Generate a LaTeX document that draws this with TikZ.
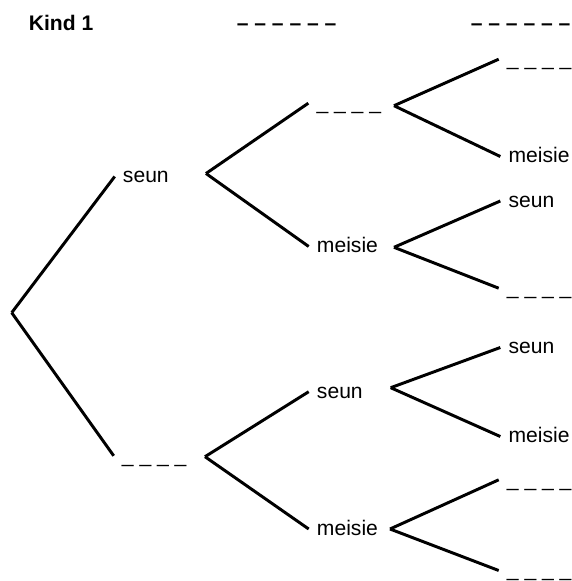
\documentclass[tikz,border=0pt]{standalone}
\usepackage{fontspec}
\setmainfont{Liberation Sans}
\tikzset{
  lbl/.style={anchor=west, inner xsep=0.2cm, inner ysep=0pt, text height=9pt, text depth=0pt, font=\fontsize{15}{18}\selectfont},
  head/.style={anchor=base west, inner sep=0pt, font=\fontsize{15}{18}\selectfont\bfseries},
  branch/.style={line width=2.1pt}
}
\newcommand{\blank}{\_ \_ \_ \_}
\begin{document}
\begin{tikzpicture}[x=0.025cm, y=-0.025cm]
  \useasboundingbox (0,0) rectangle (572,581);
  % headings
  \node[head] (kind) at (28.6,30) {Kind 1};
  \node[head] (h1) at (236.5,30) {– – – – – –};
  \node[head] (h2) at (470.5,30) {– – – – – –};

  % first child
  \coordinate (r) at (11.7,312.7);
  \node[lbl] (a) at (114.7,176.5) {seun};
  \node[lbl] (b) at (113.7,455.8) {\blank};
  \coordinate (av) at (206,173.5);
  \coordinate (bv) at (205,456.7);

  % second child
  \node[lbl] (aa) at (308.3,103.2) {\blank};
  \node[lbl] (ab) at (308.7,246.5) {meisie};
  \node[lbl] (ba) at (308.7,391.7) {seun};
  \node[lbl] (bb) at (308.7,529) {meisie};
  \coordinate (aav) at (394,105.7);
  \coordinate (abv) at (394,247.3);
  \coordinate (bav) at (390.7,387.7);
  \coordinate (bbv) at (390,529);

  % third child
  \node[lbl] (aaa) at (498.7,59.2) {\blank};
  \node[lbl] (aab) at (500.3,156.5) {meisie};
  \node[lbl] (aba) at (500.3,201) {seun};
  \node[lbl] (abb) at (498.7,288.2) {\blank};
  \node[lbl] (baa) at (500.3,347.5) {seun};
  \node[lbl] (bab) at (500.3,436.5) {meisie};
  \node[lbl] (bba) at (498.7,479.8) {\blank};
  \node[lbl] (bbb) at (498.7,570.5) {\blank};

  \foreach \source/\dest in {
    r/a, r/b,
    av/aa, av/ab, bv/ba, bv/bb,
    aav/aaa, aav/aab, abv/aba, abv/abb,
    bav/baa, bav/bab, bbv/bba, bbv/bbb}
    \draw[branch] (\source) -- (\dest.west);
\end{tikzpicture}
\end{document}
